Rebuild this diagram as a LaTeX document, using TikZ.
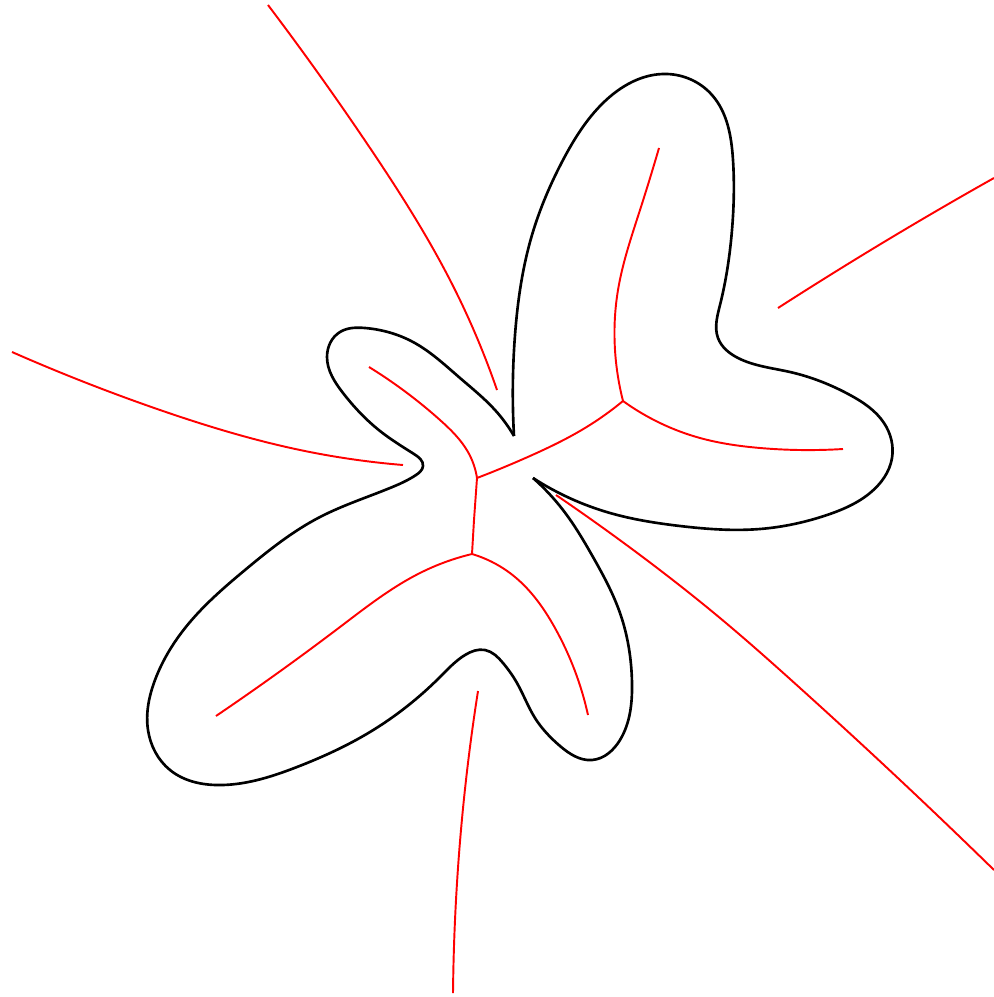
\documentclass[tikz,border=0pt]{standalone}
\usetikzlibrary{positioning, hobby}

\tikzset{
	rim/.style={draw=black, line width=0.75pt, line join=round, use Hobby shortcut},
	axis/.style={draw=red, line width=0.55pt, use Hobby shortcut},
}

\begin{document}
\begin{tikzpicture}[x=0.01cm, y=-0.01cm]
	\useasboundingbox (0,0) rectangle (994,997);
	% Cusps and branch points:
	\coordinate (cuspA) at (514,436);
	\coordinate (cuspB) at (533,478);
	\coordinate (jone) at (623,401);
	\coordinate (jtwo) at (477,478);
	\coordinate (jthree) at (472,554);
	% Outline:
	\draw[rim] (cuspA) .. (515,335) .. (532,235) .. (563,160) .. (603,103) .. (667,74) .. (712,95) .. (733,160) .. (732,230) .. (720,305) .. (718,338) .. (738,358) .. (790,372) .. (850,395) .. (884,423) .. (892,458) .. (870,493) .. (827,515) .. (760,529) .. (680,526) .. (610,513) .. (cuspB);
	\draw[rim] (cuspB) .. (563,510) .. (593,557) .. (620,613) .. (632,683) .. (620,740) .. (592,760) .. (560,746) .. (535,718) .. (517,683) .. (503,663) .. (485,650) .. (465,655) .. (440,677) .. (370,732) .. (297,767) .. (223,785) .. (170,770) .. (148,730) .. (155,680) .. (190,622) .. (245,570) .. (320,517) .. (390,488) .. (416,475) .. (423,466) .. (414,454) .. (380,431) .. (343,393) .. (327,357) .. (340,332) .. (365,328) .. (413,342) .. (460,378) .. (495,410) .. (cuspA);
	% Inner axis:
	\draw[axis] (jone) .. (615,350) .. (618,290) .. (640,210) .. (659,148);
	\draw[axis] (jone) .. (660,423) .. (700,438) .. (760,448) .. (843,449);
	\draw[axis] (jone) .. (585,428) .. (530,456) .. (jtwo);
	\draw[axis] (jtwo) .. (468,452) .. (440,420) .. (369,367);
	\draw[axis] (jtwo) -- (474,520) -- (jthree);
	\draw[axis] (jthree) .. (420,573) .. (340,627) .. (216,716);
	\draw[axis] (jthree) .. (515,577) .. (555,628) .. (588,715);
	% Outer axis:
	\draw[axis] (268,5) .. (370,148) .. (450,280) .. (497,390);
	\draw[axis] (994,178) .. (884,242) .. (778,308);
	\draw[axis] (12,352) .. (160,410) .. (300,450) .. (403,465);
	\draw[axis] (556,495) .. (640,555) .. (720,618) .. (800,688) .. (900,780) .. (994,870);
	\draw[axis] (478,691) .. (466,780) .. (456,900) .. (453,993);
\end{tikzpicture}
\end{document}
